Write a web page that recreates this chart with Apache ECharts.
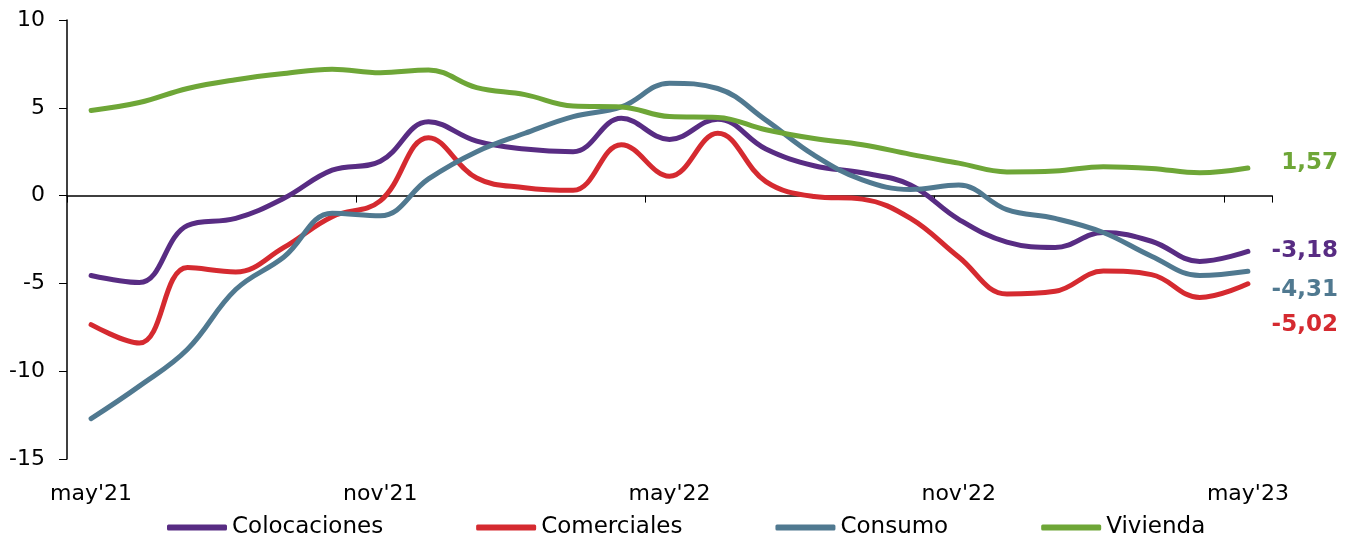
<!DOCTYPE html>
<html>
<head>
<meta charset="utf-8">
<script src="https://cdn.jsdelivr.net/npm/echarts@6/dist/echarts.min.js"></script>
<style>html,body{margin:0;padding:0;background:#fff;}#c{width:1351px;height:553px;}</style>
</head>
<body>
<div id="c"></div>
<script>
var categories = ["may'21","jun'21","jul'21","ago'21","sep'21","oct'21","nov'21","dic'21","ene'22","feb'22","mar'22","abr'22","may'22","jun'22","jul'22","ago'22","sep'22","oct'22","nov'22","dic'22","ene'23","feb'23","mar'23","abr'23","may'23"];
var seriesNames = ["Colocaciones","Comerciales","Consumo","Vivienda"];
var colocaciones = [-4.55,-4.95,-1.7,-1.3,-0.15,1.45,1.95,4.2,3.1,2.65,2.5,4.4,3.2,4.35,2.65,1.7,1.3,0.6,-1.35,-2.65,-2.95,-2.1,-2.6,-3.75,-3.18];
var comerciales = [-7.35,-8.4,-4.1,-4.35,-2.95,-1.2,-0.3,3.3,1.0,0.45,0.3,2.9,1.1,3.55,0.8,-0.05,-0.2,-1.3,-3.5,-5.6,-5.45,-4.3,-4.5,-5.8,-5.02];
var consumo = [-12.7,-10.85,-8.75,-5.35,-3.5,-1.0,-1.15,0.95,2.5,3.55,4.5,5.05,6.4,6.1,4.3,2.3,0.9,0.35,0.6,-0.8,-1.3,-2.1,-3.45,-4.55,-4.31];
var vivienda = [4.85,5.3,6.1,6.6,6.95,7.2,7.0,7.15,6.15,5.75,5.1,5.05,4.5,4.45,3.75,3.25,2.9,2.35,1.85,1.35,1.4,1.65,1.55,1.3,1.57];
var yTicks = {min:-15, max:10, interval:5};

var colors = ['#582c83','#d52a30','#507990','#6ea637'];
var labelOffsets = [[90,0],[90,41],[90,19],[90,-5]];
var font = '"DejaVu Sans", Verdana, sans-serif';
var dataSets = [colocaciones, comerciales, consumo, vivienda];

var chart = echarts.init(document.getElementById('c'), null, {renderer:'canvas'});
var series = dataSets.map(function(d,i){
  return {
    name: seriesNames[i], type:'line', data:d, xAxisIndex:0, yAxisIndex:0,
    smooth:0.4, symbol:'none', lineStyle:{width:5, color:colors[i], cap:'round'},
    itemStyle:{color:colors[i]}, z: 3+i,
    endLabel:{show:true, formatter:function(p){return p.value.toFixed(2).replace('.',',');},
      color:colors[i], fontWeight:'bold', fontSize:23, fontFamily:font,
      align:'right', distance:0, offset:labelOffsets[i]}
  };
});
chart.setOption({
  animation:false,
  color:colors,
  grid:{left:67, right:79, top:20, bottom:94, containLabel:false},
  legend:{data:seriesNames, bottom:9, left:162, itemWidth:60, itemHeight:6, itemGap:93,
    icon:'roundRect', textStyle:{fontSize:23, fontFamily:font, color:'#000'}},
  xAxis:[{
    type:'category', data:categories, boundaryGap:true,
    axisLine:{onZero:true, lineStyle:{color:'#000', width:1.5}},
    axisTick:{show:true, interval:5, length:7, lineStyle:{color:'#000', width:1}},
    axisLabel:{show:false}, splitLine:{show:false}
  },{
    type:'category', data:categories, boundaryGap:true, position:'bottom',
    axisLine:{show:false}, axisTick:{show:false}, splitLine:{show:false},
    axisLabel:{show:true, interval:5, margin:24, fontSize:22, fontFamily:font, color:'#000'}
  }],
  yAxis:{type:'value', min:yTicks.min, max:yTicks.max, interval:yTicks.interval,
    axisLine:{show:true, lineStyle:{color:'#000', width:1.5}},
    axisTick:{show:true, length:8, lineStyle:{color:'#000'}},
    axisLabel:{margin:22, fontSize:22, fontFamily:font, color:'#000'},
    splitLine:{show:false}},
  series:series
});
</script>
</body>
</html>
